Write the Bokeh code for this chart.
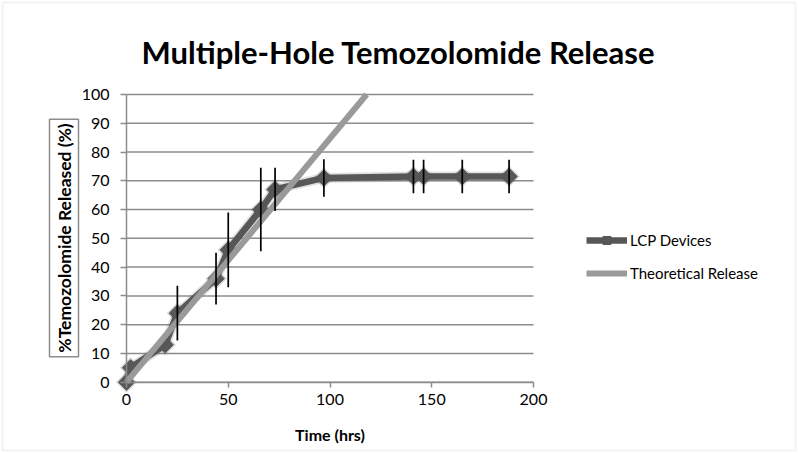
import math
from bokeh.plotting import figure
from bokeh.models import (Range1d, Legend, LegendItem, FixedTicker, LinearAxis,
                          Label, BoxAnnotation)
from bokeh.embed import file_html
from bokeh.resources import INLINE

# ---- data ----
time_hrs = [0, 2, 19, 25, 44, 50, 66, 73, 97, 141, 146, 165, 188]
lcp_release = [0, 5, 13, 24, 36, 46, 60, 67, 71, 71.5, 71.5, 71.5, 71.5]
lcp_error = [0, 0, 0, 9.5, 9, 13, 14.5, 7.5, 6.5, 5.8, 5.8, 5.8, 5.8]
theory_time = [0, 118]
theory_release = [0, 100]
x_ticks = [0, 50, 100, 150, 200]
y_ticks = [0, 10, 20, 30, 40, 50, 60, 70, 80, 90, 100]
series_names = ["LCP Devices", "Theoretical Release"]
title_text = "Multiple-Hole Temozolomide Release"
x_label = "Time (hrs)"
y_label = "%Temozolomide Released (%)"

err_low = [v - e for v, e in zip(lcp_release, lcp_error)]
err_high = [v + e for v, e in zip(lcp_release, lcp_error)]

# ---- layout (pixels) ----
W, H = 798, 453
PLOT_L, PLOT_R, PLOT_T, PLOT_B = 126.0, 533.0, 94.0, 381.7
X0, X1 = x_ticks[0], x_ticks[-1]
Y0, Y1 = y_ticks[0], y_ticks[-1]
sx = (PLOT_R - PLOT_L) / (X1 - X0)
sy = (PLOT_B - PLOT_T) / (Y1 - Y0)


def px_x(px):
    return X0 + (px - PLOT_L) / sx


def px_y(py):
    return Y0 + (PLOT_B - py) / sy


FONT = "Lato"
GRID = "#8c8c8c"
LCP_COLOR = "#575757"
THEORY_COLOR = "#9a9a9a"

p = figure(width=W, height=H, output_backend="svg", toolbar_location=None,
           x_range=Range1d(px_x(0), px_x(W)), y_range=Range1d(px_y(H), px_y(0)),
           x_axis_location=None, y_axis_location=None, min_border=0)
p.outline_line_color = None
p.background_fill_color = "white"
p.border_fill_color = "white"
p.grid.visible = False

# outer chart border
p.add_layout(BoxAnnotation(left=px_x(2), right=px_x(795), top=px_y(2), bottom=px_y(450),
                           fill_alpha=0, line_color="#d6d6d6", line_width=2))

# horizontal gridlines over the data span
p.segment(x0=[X0] * len(y_ticks), y0=y_ticks, x1=[X1] * len(y_ticks), y1=y_ticks,
          line_color=GRID, line_width=1.5)

# axes anchored at the origin
xaxis = LinearAxis(fixed_location=Y0, bounds=(X0, X1), ticker=FixedTicker(ticks=x_ticks))
yaxis = LinearAxis(fixed_location=X0, bounds=(Y0, Y1), ticker=FixedTicker(ticks=y_ticks))
for ax in (xaxis, yaxis):
    ax.axis_line_color = GRID
    ax.axis_line_width = 1.5
    ax.major_tick_line_color = GRID
    ax.major_tick_line_width = 1.5
    ax.major_tick_in = 0
    ax.minor_tick_line_color = None
    ax.major_label_text_font = FONT
    ax.major_label_text_font_size = "16px"
    ax.major_label_text_color = "#000000"
xaxis.major_tick_out = 5
yaxis.major_tick_out = 6
xaxis.major_label_standoff = 7
yaxis.major_label_standoff = 11
p.add_layout(xaxis, "below")
p.add_layout(yaxis, "left")

# data series (soft shadow first, then the series)
p.line(time_hrs, lcp_release, line_color=LCP_COLOR, line_width=10, line_alpha=0.18,
       line_join="round")
p.scatter(time_hrs, lcp_release, marker="square", angle=math.pi / 4, size=15,
          fill_color=LCP_COLOR, fill_alpha=0.25, line_color=None)
lcp_line = p.line(time_hrs, lcp_release, line_color=LCP_COLOR, line_width=6.5,
                  line_join="round")
lcp_marks = p.scatter(time_hrs, lcp_release, marker="square", angle=math.pi / 4,
                      size=11.5, fill_color=LCP_COLOR, line_color=LCP_COLOR)
theory_line = p.line(theory_time, theory_release, line_color=THEORY_COLOR, line_width=6)
p.segment(x0=time_hrs, y0=err_low, x1=time_hrs, y1=err_high,
          line_color="#000000", line_width=1.7)

# legend
legend = Legend(items=[LegendItem(label=series_names[0], renderers=[lcp_line, lcp_marks]),
                       LegendItem(label=series_names[1], renderers=[theory_line])],
                location=(586, H - 283))
legend.glyph_width = 41
legend.glyph_height = 20
legend.label_height = 20
legend.spacing = 13
legend.padding = 0
legend.margin = 0
legend.border_line_color = None
legend.background_fill_alpha = 0
legend.label_text_font = FONT
legend.label_text_font_size = "15px"
legend.label_text_color = "#000000"
legend.label_standoff = 3
p.add_layout(legend)

# title
p.add_layout(Label(x=px_x(398), y=px_y(51), text=title_text, text_align="center",
                   text_baseline="alphabetic", text_font=FONT, text_font_style="bold",
                   text_font_size="31px", text_color="#000000"))

# x-axis title
p.add_layout(Label(x=px_x(329.5), y=px_y(434), text=x_label, text_align="center",
                   text_baseline="middle", text_font=FONT, text_font_style="bold",
                   text_font_size="16px", text_color="#000000"))

# boxed y-axis title
p.add_layout(Label(x=px_x(63.5), y=px_y(237.5), text=y_label, angle=math.pi / 2,
                   text_align="center", text_baseline="middle", text_font=FONT,
                   text_font_style="bold", text_font_size="17.5px",
                   text_color="#000000", border_line_color="#8c8c8c",
                   border_line_width=1.5, padding=4))

open("out.html", "w").write(file_html(p, INLINE))
